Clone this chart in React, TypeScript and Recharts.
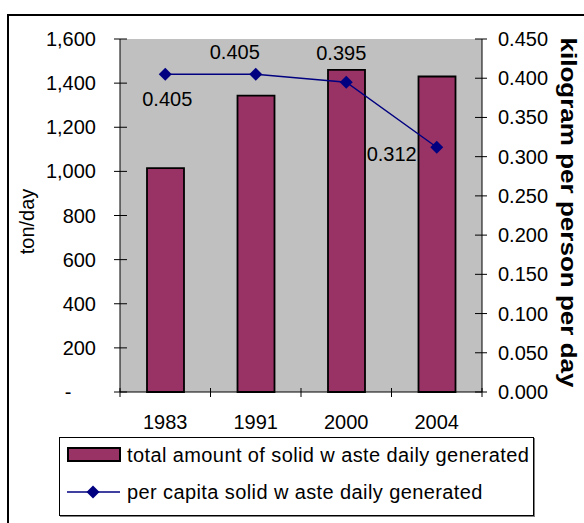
import React from 'react';
import { ComposedChart, Bar, Line, XAxis, YAxis, CartesianGrid, LabelList } from 'recharts';

const YEARS = ['1983', '1991', '2000', '2004'];
const TONS_PER_DAY = [1015, 1343, 1460, 1430];
const KG_PER_PERSON = [0.405, 0.405, 0.395, 0.312];
const TON_TICKS = [0, 200, 400, 600, 800, 1000, 1200, 1400, 1600];
const KG_TICKS = [0, 0.05, 0.1, 0.15, 0.2, 0.25, 0.3, 0.35, 0.4, 0.45];
const BAR_NAME = 'total amount of solid w aste daily generated';
const LINE_NAME = 'per capita solid w aste daily generated';

// excel data labels were dragged around by hand, so each gets its own nudge
const LABEL_NUDGE = [
  { dx: 2, dy: 25, anchor: 'middle' },
  { dx: -21, dy: -22, anchor: 'middle' },
  { dx: -5, dy: -29, anchor: 'middle' },
  { dx: -20, dy: 7, anchor: 'end' },
];

const FONT = '"Liberation Sans", Arial, sans-serif';
const PLUM = '#993366';
const NAVY = '#000080';
const DIAMOND_R = 6.5;

const rows = YEARS.map((year, i) => ({ year, tons: TONS_PER_DAY[i], kg: KG_PER_PERSON[i] }));

const Diamond = ({ cx, cy }: any) => {
  if (cx == null || cy == null) return null;
  const r = DIAMOND_R;
  return <polygon points={`${cx},${cy - r} ${cx + r},${cy} ${cx},${cy + r} ${cx - r},${cy}`} fill={NAVY} />;
};

const TonTick = ({ x, y, payload }: any) => (
  <g>
    <line x1={x - 6} x2={x + 7} y1={y} y2={y} stroke="#000" />
    {payload.value === 0 ? (
      <text x={x - 52} y={y} dy="0.35em" textAnchor="middle" fontSize={20} fontFamily={FONT} fill="#000">-</text>
    ) : (
      <text x={x - 24} y={y} dy="0.35em" textAnchor="end" fontSize={20} fontFamily={FONT} fill="#000">
        {payload.value.toLocaleString('en-US')}
      </text>
    )}
  </g>
);

const KgTick = ({ x, y, payload }: any) => (
  <g>
    <line x1={x - 7} x2={x + 5} y1={y} y2={y} stroke="#000" />
    <text x={x + 16} y={y} dy="0.35em" textAnchor="start" fontSize={20} fontFamily={FONT} fill="#000">
      {payload.value.toFixed(3)}
    </text>
  </g>
);

const YearTick = ({ x, y, payload, index }: any) => {
  const half = payload.offset || 0;
  return (
    <g>
      <line x1={x - half} x2={x - half} y1={y - 4} y2={y + 5} stroke="#000" />
      {index === YEARS.length - 1 && <line x1={x + half} x2={x + half} y1={y - 4} y2={y + 5} stroke="#000" />}
      <text x={x} y={y} dy={37} textAnchor="middle" fontSize={20} fontFamily={FONT} fill="#000">
        {payload.value}
      </text>
    </g>
  );
};

const PointLabel = ({ x, y, value, index }: any) => {
  const n = LABEL_NUDGE[index];
  return (
    <text
      x={x + n.dx}
      y={y + n.dy}
      dy="0.35em"
      textAnchor={n.anchor}
      fontSize={20}
      fontFamily={FONT}
      fill="#000"
    >
      {Number(value).toFixed(3)}
    </text>
  );
};

export default function App() {
  return (
    <div style={{ position: 'absolute', left: 0, top: 0, width: 584, height: 523, overflow: 'hidden', background: '#fff' }}>
      <div style={{ position: 'absolute', left: 7, top: 14, width: 1.5, height: 520, background: '#000' }} />
      <div style={{ position: 'absolute', left: 7, top: 14, width: 600, height: 1.5, background: '#000' }} />
      <div style={{ position: 'absolute', left: 0, top: 0 }}>
        <ComposedChart width={584} height={523} data={rows} margin={{ top: 39, right: 0, bottom: 101, left: 0 }}>
          <CartesianGrid horizontal={false} vertical={false} fill="#C0C0C0" yAxisId="ton" />
          <XAxis
            dataKey="year"
            height={30}
            tickSize={0}
            tickMargin={0}
            tick={<YearTick />}
            axisLine={{ stroke: '#000' }}
          />
          <YAxis
            yAxisId="ton"
            orientation="left"
            width={120}
            domain={[0, 1600]}
            ticks={TON_TICKS}
            tickSize={0}
            tickMargin={0}
            tick={<TonTick />}
            axisLine={{ stroke: '#000' }}
            label={({ viewBox }: any) => (
              <text
                x={viewBox.x + 27}
                y={viewBox.y + viewBox.height / 2 + 6}
                transform={`rotate(-90 ${viewBox.x + 27} ${viewBox.y + viewBox.height / 2 + 6})`}
                textAnchor="middle"
                dominantBaseline="central"
                fontSize={20}
                fontFamily={FONT}
                fill="#000"
              >
                ton/day
              </text>
            )}
          />
          <YAxis
            yAxisId="kg"
            orientation="right"
            width={102}
            domain={[0, 0.45]}
            ticks={KG_TICKS}
            tickSize={0}
            tickMargin={0}
            tick={<KgTick />}
            axisLine={{ stroke: '#000' }}
            label={({ viewBox }: any) => (
              <text
                x={viewBox.x + 86}
                y={viewBox.y + viewBox.height / 2 - 3}
                transform={`rotate(90 ${viewBox.x + 86} ${viewBox.y + viewBox.height / 2 - 3})`}
                textAnchor="middle"
                dominantBaseline="central"
                fontSize={22}
                fontWeight="bold"
                fontFamily={FONT}
                textLength={350}
                lengthAdjust="spacingAndGlyphs"
                fill="#000"
              >
                kilogram per person per day
              </text>
            )}
          />
          <Bar
            yAxisId="ton"
            dataKey="tons"
            name={BAR_NAME}
            barSize={37}
            fill={PLUM}
            stroke="#000"
            strokeWidth={1.8}
            isAnimationActive={false}
          />
          <Line
            yAxisId="kg"
            dataKey="kg"
            name={LINE_NAME}
            type="linear"
            stroke={NAVY}
            strokeWidth={1.5}
            dot={<Diamond />}
            activeDot={false}
            isAnimationActive={false}
          >
            <LabelList dataKey="kg" content={<PointLabel />} />
          </Line>
        </ComposedChart>
      </div>
      <div
        style={{
          position: 'absolute',
          left: 59,
          top: 437,
          width: 475,
          height: 79,
          boxSizing: 'border-box',
          border: '1px solid #000',
          boxShadow: '1px 1px 0 #808080',
          background: '#fff',
          fontFamily: FONT,
          fontSize: 20,
          letterSpacing: 0.4,
          color: '#000',
        }}
      >
        <div style={{ position: 'absolute', left: 7, top: 5, height: 24, display: 'flex', alignItems: 'center', whiteSpace: 'nowrap' }}>
          <svg width={55} height={16} style={{ marginRight: 5 }}>
            <rect x={1} y={1} width={52} height={13} fill={PLUM} stroke="#000" strokeWidth={2} />
          </svg>
          {BAR_NAME}
        </div>
        <div style={{ position: 'absolute', left: 7, top: 42, height: 24, display: 'flex', alignItems: 'center', whiteSpace: 'nowrap' }}>
          <svg width={55} height={16} style={{ marginRight: 5 }}>
            <line x1={0} x2={53} y1={8} y2={8} stroke={NAVY} strokeWidth={1.5} />
            <polygon points="26,1.5 32.5,8 26,14.5 19.5,8" fill={NAVY} />
          </svg>
          {LINE_NAME}
        </div>
      </div>
    </div>
  );
}
